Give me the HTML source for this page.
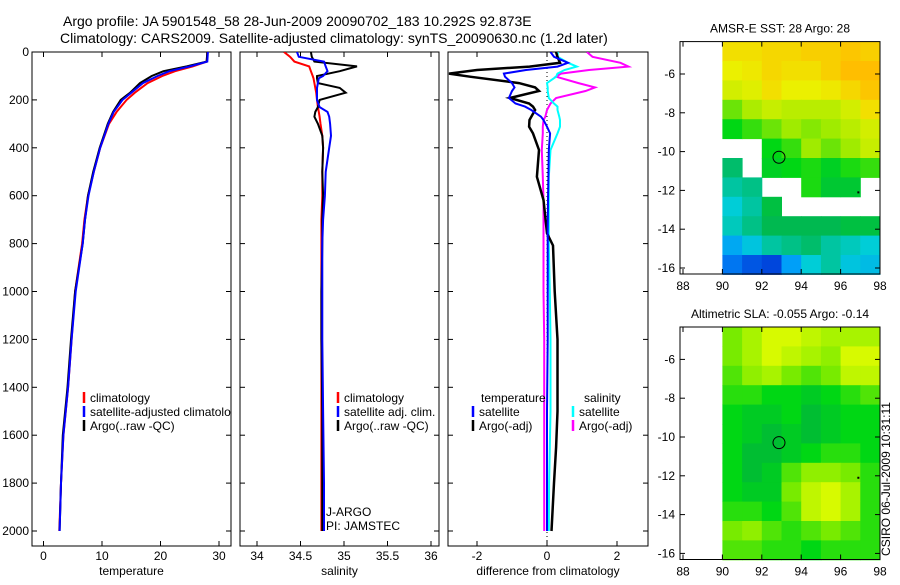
<!DOCTYPE html>
<html><head><meta charset="utf-8"><style>
body{margin:0;background:#fff;}
svg text{font-family:"Liberation Sans",sans-serif;font-size:12px;fill:#000;}
</style></head><body>
<svg id="c" width="900" height="580" xmlns="http://www.w3.org/2000/svg">
<text x="63" y="26" style="font-size:14px">Argo profile: JA 5901548_58 28-Jun-2009 20090702_183 10.292S 92.873E</text>
<text x="60" y="43" style="font-size:14px">Climatology: CARS2009. Satellite-adjusted climatology: synTS_20090630.nc (1.2d later)</text>
<text x="881" y="470" transform="rotate(-90 890 470)" text-anchor="middle" style="font-size:12px">CSIRO 06-Jul-2009 10:31:11</text>
</svg>
<script>
// ---------- data ----------
const depthT=[0,40,60,80,100,130,170,200,250,300,400,500,600,700,800,1000,1200,1400,1600,1800,2000];
const tempArgo=[28.0,27.9,24.5,20.5,18.5,16.5,14.8,13.2,11.9,11.0,9.6,8.5,7.6,7.1,6.7,5.4,4.7,4.1,3.3,3.0,2.75];
const tempClim=[28.0,27.9,25.5,22.5,20.3,17.8,15.6,14.2,12.5,11.2,9.7,8.6,7.6,7.0,6.6,5.4,4.8,4.2,3.4,3.0,2.7];
const tempSat=[28.1,28.0,25.0,21.5,19.5,17.0,15.0,13.5,12.0,11.1,9.7,8.6,7.7,7.1,6.7,5.5,4.8,4.2,3.4,3.0,2.75];
const depthS=[0,20,40,60,80,100,110,130,150,170,200,230,250,270,300,350,400,500,600,700,800,1000,1200,1500,1800,2000];
const salArgo=[34.62,34.63,34.66,35.15,34.95,34.69,34.69,34.70,34.95,35.02,34.72,34.70,34.67,34.66,34.70,34.75,34.76,34.75,34.76,34.75,34.75,34.74,34.74,34.75,34.75,34.75];
const salClim=[34.31,34.38,34.43,34.60,34.62,34.64,34.65,34.66,34.67,34.68,34.69,34.70,34.71,34.72,34.73,34.75,34.76,34.75,34.75,34.74,34.74,34.74,34.74,34.74,34.74,34.74];
const salSat=[34.46,34.48,34.77,34.79,34.81,34.76,34.71,34.70,34.69,34.69,34.69,34.72,34.81,34.83,34.84,34.85,34.83,34.79,34.78,34.76,34.75,34.75,34.75,34.76,34.77,34.77];
const depthD=[0,20,45,61,75,90,103,130,148,163,192,215,228,242,270,284,312,340,409,521,618,757,808,1000,1200,1500,1650,1800,2000];
const dTempArgo=[0.26,0.3,0.37,-0.5,-2.0,-2.8,-2.2,-0.8,-0.34,-0.23,-1.06,-0.51,-0.4,-0.34,-0.45,-0.5,-0.51,-0.4,-0.23,-0.29,-0.1,0.0,0.17,0.22,0.3,0.3,0.26,0.2,0.13];
const dTempSat=[0.1,0.2,0.6,0.3,-0.6,-1.23,-1.2,-1.0,-0.93,-1.0,-1.09,-0.9,-0.63,-0.45,-0.17,-0.1,0.0,0.09,0.05,0.04,0.03,0.02,0.02,0.02,0.02,0.0,0.0,0.0,0.0];
const dSalArgo=[1.14,1.3,2.1,2.33,1.2,0.4,0.26,0.9,1.37,1.1,0.26,0.1,0.05,0.0,-0.05,-0.1,-0.12,-0.12,-0.15,-0.12,-0.1,-0.1,-0.1,-0.1,-0.08,-0.08,-0.08,-0.08,-0.08];
const dSalSat=[0.31,0.3,0.6,0.85,0.5,0.3,0.26,0.0,0.02,0.02,0.05,0.2,0.3,0.3,0.35,0.37,0.37,0.3,0.1,0.05,0.05,0.05,0.05,0.08,0.1,0.1,0.08,0.06,0.05];
const depthTicks=[0,200,400,600,800,1000,1200,1400,1600,1800,2000];
const tempTicks=[0,10,20,30];
const salTicks=[34,34.5,35,35.5,36];
const diffTicks=[-2,0,2];
// maps: rows lat -4.33 downward 1 deg each, cols lon 90..98
const sst=[
[28.6,28.6,28.7,28.7,28.8,28.8,28.9,28.8],
[28.4,28.5,28.7,28.6,28.6,28.8,29.0,29.0],
[28.2,28.3,28.6,28.4,28.4,28.5,28.7,28.9],
[27.6,27.9,28.1,28.0,28.0,28.0,28.2,28.6],
[27.2,27.4,27.6,27.8,27.7,27.8,28.0,28.2],
[null,null,27.2,27.4,27.8,27.6,27.8,28.1],
[26.7,null,27.1,27.2,27.3,27.1,27.3,27.4],
[26.5,26.6,null,null,27.3,27.0,27.0,null],
[26.3,26.5,26.9,null,null,null,null,null],
[26.4,26.6,26.8,26.8,26.8,26.8,26.9,26.9],
[25.9,26.2,26.5,26.6,26.7,26.5,26.4,26.3],
[25.5,25.3,25.2,25.8,26.3,26.5,26.2,26.1]];
const sla=[
[0.3,0.5,0.7,0.7,0.6,0.5,0.5,0.5],
[0.3,0.5,0.7,0.6,0.5,0.4,0.7,0.7],
[0.2,0.4,0.5,0.3,0.2,0.3,0.6,0.6],
[0.1,0.1,0.0,0.0,-0.1,0.0,0.1,0.2],
[0.0,-0.1,-0.1,0.0,-0.2,-0.1,0.0,0.0],
[0.0,-0.1,-0.2,-0.1,-0.2,-0.1,0.0,0.0],
[0.0,-0.2,-0.2,-0.1,0.0,0.1,0.1,0.0],
[0.0,-0.2,-0.1,0.2,0.4,0.4,0.3,0.1],
[0.0,-0.1,-0.1,0.3,0.6,0.7,0.5,0.1],
[0.1,0.1,0.0,0.2,0.6,0.7,0.5,0.1],
[0.3,0.4,0.2,0.1,0.2,0.3,0.2,0.1],
[0.2,0.2,0.1,0.1,0.0,0.1,0.1,0.1]];
const latTicks=[-6,-8,-10,-12,-14,-16];
const lonTicks=[88,90,92,94,96,98];
const argoPos=[92.873,-10.292];

// ---------- drawing ----------
const S=document.getElementById('c');const NS='http://www.w3.org/2000/svg';
function mk(t,a,p){const e=document.createElementNS(NS,t);for(const k in a)e.setAttribute(k,a[k]);(p||S).appendChild(e);return e;}
const yD=d=>52+d*0.2395;
const panels=[
 {x0:32,x1:231,f:v=>43.5+v*5.85,ticks:tempTicks,label:'temperature',name:'temperature'},
 {x0:240,x1:439,f:v=>257+(v-34)*87,ticks:salTicks,label:'salinity',name:'salinity'},
 {x0:448,x1:648,f:v=>547+v*35,ticks:diffTicks,label:'difference from climatology',name:'difference'}];
panels.forEach((p,i)=>{
 const g=mk('g',{});
 
 
 const fr=mk('rect',{x:p.x0,y:52,width:p.x1-p.x0,height:494,fill:'none',stroke:'#000','stroke-width':1},g);
 
 
 depthTicks.forEach(d=>{
  mk('line',{x1:p.x0,x2:p.x0+5,y1:yD(d),y2:yD(d),stroke:'#000'},g);
  mk('line',{x1:p.x1-5,x2:p.x1,y1:yD(d),y2:yD(d),stroke:'#000'},g);
  if(i==0){const t=mk('text',{x:29,y:yD(d)+4,'text-anchor':'end'},g);t.textContent=d;
   
   }
 });
 p.ticks.forEach(v=>{const x=p.f(v);
  mk('line',{x1:x,x2:x,y1:546,y2:541,stroke:'#000'},g);mk('line',{x1:x,x2:x,y1:52,y2:57,stroke:'#000'},g);
  const t=mk('text',{x:x,y:560,'text-anchor':'middle'},g);t.textContent=v;
  
  });
 const xl=mk('text',{x:(p.x0+p.x1)/2,y:575,'text-anchor':'middle'},g);xl.textContent=p.label;
 
 
 const cp=mk('clipPath',{id:'cp'+i},S);mk('rect',{x:p.x0,y:52,width:p.x1-p.x0,height:494},cp);
});
function line(pi,ds,vs,col,name,w){const p=panels[pi];
 const pts=ds.map((d,k)=>p.f(vs[k]).toFixed(1)+','+yD(d).toFixed(1)).join(' ');
 const e=mk('polyline',{points:pts,fill:'none',stroke:col,'stroke-width':w||2,'clip-path':'url(#cp'+pi+')'});
 
 }
line(0,depthT,tempClim,'#f00','temp-climatology-line');
line(0,depthT,tempArgo,'#000','temp-argo-line');
line(0,depthT,tempSat,'#00f','temp-satellite-line');
line(1,depthS,salClim,'#f00','sal-climatology-line');
line(1,depthS,salArgo,'#000','sal-argo-line');
line(1,depthS,salSat,'#00f','sal-satellite-line');
const zl=mk('line',{x1:panels[2].f(0),x2:panels[2].f(0),y1:52,y2:546,stroke:'#000','stroke-dasharray':'1,3'});


line(2,depthD,dSalArgo,'#f0f','diff-sal-argo-line');
line(2,depthD,dSalSat,'#0ff','diff-sal-satellite-line');
line(2,depthD,dTempArgo,'#000','diff-temp-argo-line',2.5);
line(2,depthD,dTempSat,'#00f','diff-temp-satellite-line');
// legends
function leg(x,y,col,txt,name,clip){
 if(col){mk('line',{x1:x,x2:x,y1:y-10,y2:y+1,stroke:col,'stroke-width':2.5});}
 const t=mk('text',{x:x+6,y:y},S);t.textContent=txt;if(clip!==undefined)t.setAttribute('clip-path','url(#cp'+clip+')');
 
 }
leg(84,402,'#f00','climatology','legend-climatology',0);
leg(84,416,'#00f','satellite-adjusted climatology','legend-satellite-adjusted',0);
leg(84,430,'#000','Argo(..raw -QC)','legend-argo',0);
leg(338,402,'#f00','climatology','legend-sal-climatology');
leg(338,416,'#00f','satellite adj. clim.','legend-sal-satellite');
leg(338,430,'#000','Argo(..raw -QC)','legend-sal-argo');
leg(475,402,null,'temperature','legend-temperature-heading');
leg(473,416,'#00f','satellite','legend-diff-temp-satellite');
leg(473,430,'#000','Argo(-adj)','legend-diff-temp-argo');
leg(578,402,null,'salinity','legend-salinity-heading');
leg(573,416,'#0ff','satellite','legend-diff-sal-satellite');
leg(573,430,'#f0f','Argo(-adj)','legend-diff-sal-argo');
leg(320,516,null,'J-ARGO','j-argo-label');
leg(320,530,null,'PI: JAMSTEC','pi-label');
// maps
function lerp(st,v){if(v<=st[0][0])return st[0][1];for(let i=1;i<st.length;i++){if(v<=st[i][0]){const a=st[i-1],b=st[i],t=(v-a[0])/(b[0]-a[0]);return a[1].map((c,k)=>Math.round(c+(b[1][k]-c)*t));}}return st[st.length-1][1];}
const sstCm=[[25.2,[0,70,220]],[25.7,[0,150,255]],[26.3,[0,205,215]],[26.8,[0,185,80]],[27.2,[0,215,20]],[27.8,[160,235,0]],[28.4,[235,240,0]],[29.0,[255,190,0]]];
const slaCm=[[-0.2,[0,190,50]],[0.0,[0,215,20]],[0.3,[120,235,0]],[0.7,[215,250,0]]];
function drawMap(top,data,cm,title,name,bot){
 const lonX=l=>683+(l-88)*19.7, latY=l=>top+(-4.33-l)*19.4;
 const g=mk('g',{});
 data.forEach((row,r)=>row.forEach((v,c)=>{if(v===null)return;const col=lerp(cm,v);
  const e=mk('rect',{x:lonX(90+c).toFixed(1),y:latY(-4.33-r).toFixed(1),width:20.2,height:19.9,fill:'rgb('+col.join(',')+')'},g);
  
  }));
 mk('rect',{x:680,y:top,width:200,height:bot-top,fill:'none',stroke:'#000'},g);
 latTicks.forEach(l=>{const y=latY(l);mk('line',{x1:680,x2:685,y1:y,y2:y,stroke:'#000'},g);mk('line',{x1:875,x2:880,y1:y,y2:y,stroke:'#000'},g);
  const t=mk('text',{x:675,y:y+4,'text-anchor':'end'},g);t.textContent=l;
  });
 lonTicks.forEach(l=>{const x=lonX(l);mk('line',{x1:x,x2:x,y1:bot,y2:bot-5,stroke:'#000'},g);mk('line',{x1:x,x2:x,y1:top,y2:top+5,stroke:'#000'},g);
  const t=mk('text',{x:x,y:bot+16,'text-anchor':'middle'},g);t.textContent=l;
  });
 const tt=mk('text',{x:780,y:top-9,'text-anchor':'middle'},g);tt.textContent=title;
 
 const ci=mk('circle',{cx:lonX(argoPos[0]),cy:latY(argoPos[1]),r:6,fill:'none',stroke:'#000'},g);
 
 mk('rect',{x:lonX(96.85),y:latY(-12.05),width:2,height:2,fill:'#000'},g);
}
drawMap(41.6,sst,sstCm,'AMSR-E SST: 28 Argo: 28','sst-map',274);
drawMap(327,sla,slaCm,'Altimetric SLA: -0.055 Argo: -0.14','sla-map',559.5);
</script>
</body></html>
